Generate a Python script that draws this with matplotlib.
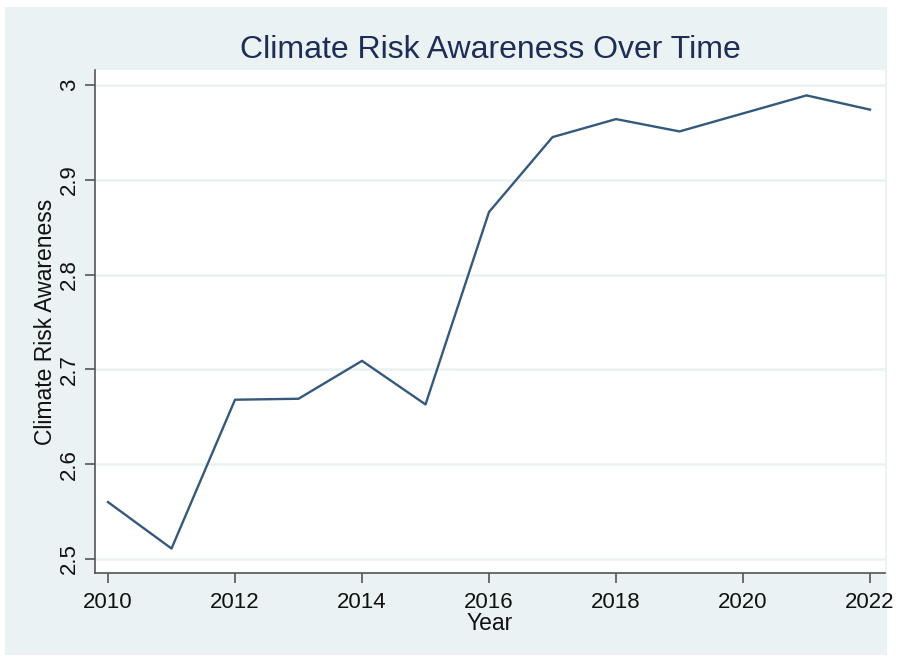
import matplotlib.pyplot as plt

years = [2010, 2011, 2012, 2013, 2014, 2015, 2016, 2017, 2018, 2019, 2020, 2021, 2022]
awareness = [2.560, 2.511, 2.668, 2.669, 2.709, 2.663, 2.866, 2.945, 2.964, 2.951, 2.970, 2.989, 2.974]
x_ticks = [2010, 2012, 2014, 2016, 2018, 2020, 2022]
y_ticks = [2.5, 2.6, 2.7, 2.8, 2.9, 3.0]
y_labels = ["2.5", "2.6", "2.7", "2.8", "2.9", "3"]

plt.rcParams['font.family'] = ['Liberation Sans', 'DejaVu Sans']

bg = "#eaf2f3"
fig = plt.figure(figsize=(8.99, 6.59), dpi=100, facecolor="white")

# light outer panel like Stata's s2color scheme
panel = fig.add_axes([5 / 899, 4 / 659, 882 / 899, 648 / 659], zorder=0)
panel.set_facecolor(bg)
panel.set_xticks([])
panel.set_yticks([])
for s in panel.spines.values():
    s.set_visible(False)

ax = fig.add_axes([95 / 899, 1 - 573 / 659, 790 / 899, 503 / 659], zorder=1)
ax.set_facecolor("white")
ax.plot(years, awareness, color="#35597c", lw=1.7)

ax.set_xlim(2009.795, 2022.236)
ax.set_ylim(2.4852, 3.0158)
ax.set_xticks(x_ticks)
ax.set_yticks(y_ticks)
ax.set_yticklabels(y_labels, rotation=90, va="center")
ax.grid(axis="y", color=bg, lw=1.8)
ax.set_axisbelow(True)

for s in ["top", "right"]:
    ax.spines[s].set_visible(False)
for s in ["left", "bottom"]:
    ax.spines[s].set_color("#555555")
    ax.spines[s].set_linewidth(1.2)
ax.tick_params(direction="out", length=7, width=1.2, color="#555555",
               labelsize=16, labelcolor="#111111")
ax.tick_params(axis="x", pad=7)
ax.tick_params(axis="y", pad=4)

ax.set_xlabel("Year", fontsize=16.5, color="#111111", labelpad=-1)
ax.set_ylabel("Climate Risk Awareness", fontsize=16.5, color="#111111", labelpad=1)
ax.set_title("Climate Risk Awareness Over Time", fontsize=23, color="#1e2d55", pad=9)

fig.savefig("out.png", dpi=100, facecolor="white")
